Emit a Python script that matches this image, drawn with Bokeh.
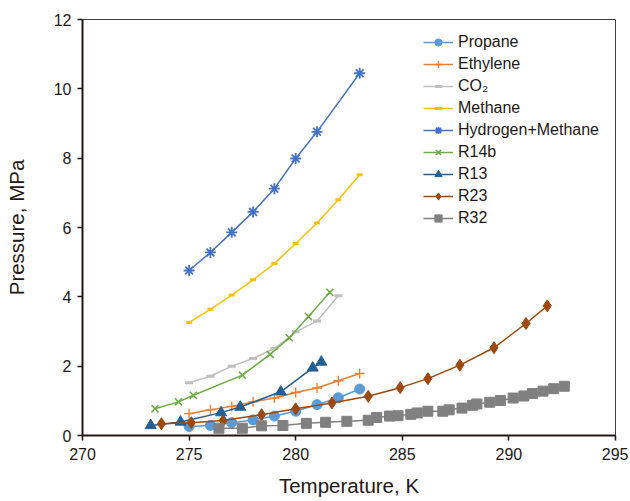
from bokeh.plotting import figure
from bokeh.models import Range1d, FixedTicker, Legend
from bokeh.embed import file_html
from bokeh.resources import INLINE

# ---- data ----
propane_T = [275, 276, 277, 278, 279, 280, 281, 282, 283]
propane_P = [0.26, 0.29, 0.37, 0.45, 0.56, 0.70, 0.89, 1.09, 1.34]

ethylene_T = [275, 276, 277, 278, 279, 280, 281, 282, 283]
ethylene_P = [0.63, 0.74, 0.84, 0.97, 1.08, 1.24, 1.37, 1.58, 1.79]

co2_T = [275, 276, 277, 278, 279, 280, 281, 282]
co2_P = [1.52, 1.71, 2.00, 2.22, 2.51, 2.99, 3.30, 4.03]

methane_T = [275, 276, 277, 278, 279, 280, 281, 282, 283]
methane_P = [3.26, 3.64, 4.05, 4.49, 4.96, 5.54, 6.13, 6.80, 7.52]

hm_T = [275, 276, 277, 278, 279, 280, 281, 283]
hm_P = [4.76, 5.28, 5.86, 6.45, 7.12, 7.99, 8.76, 10.45]

r14b_T = [273.4, 274.5, 275.2, 277.5, 278.8, 279.7, 280.6, 281.6]
r14b_P = [0.77, 0.97, 1.16, 1.74, 2.34, 2.82, 3.43, 4.13]

r13_T = [273.2, 274.6, 276.5, 277.4, 279.3, 280.8, 281.2]
r13_P = [0.29, 0.39, 0.66, 0.82, 1.26, 1.95, 2.12]

r23_T = [273.7, 275.1, 276.6, 278.4, 280.0, 281.7, 283.4, 284.9, 286.2, 287.7, 289.3, 290.8, 291.8]
r23_P = [0.34, 0.37, 0.43, 0.60, 0.77, 0.94, 1.13, 1.38, 1.64, 2.03, 2.53, 3.23, 3.74]

r32_T = [276.4, 277.5, 278.4, 279.4, 280.5, 281.4, 282.4, 283.4, 283.8, 284.4, 284.8,
         285.4, 285.7, 286.2, 286.9, 287.2, 287.8, 288.3, 288.5, 289.1, 289.6, 290.2,
         290.7, 291.1, 291.6, 292.1, 292.6]
r32_P = [0.21, 0.21, 0.28, 0.29, 0.35, 0.38, 0.41, 0.44, 0.52, 0.56, 0.57,
         0.61, 0.65, 0.70, 0.70, 0.74, 0.79, 0.87, 0.91, 0.96, 1.01, 1.08,
         1.14, 1.21, 1.28, 1.35, 1.42]

x_ticks = [270, 275, 280, 285, 290, 295]
y_ticks = [0, 2, 4, 6, 8, 10, 12]

FONT = "Liberation Sans"

p = figure(width=628, height=501, output_backend="svg", toolbar_location=None,
           x_range=Range1d(270, 295), y_range=Range1d(0, 12),
           min_border_left=82, min_border_right=13, min_border_top=19, min_border_bottom=66)

p.xgrid.visible = False
p.ygrid.visible = False
p.outline_line_color = "#404040"
p.outline_line_width = 1

for ax in (p.xaxis[0], p.yaxis[0]):
    ax.axis_line_color = "#231815"
    ax.axis_line_width = 2
    ax.major_tick_line_color = "#231815"
    ax.major_tick_line_width = 1.5
    ax.major_tick_out = 5
    ax.major_tick_in = 0
    ax.minor_tick_line_color = None
    ax.major_label_text_font = FONT
    ax.major_label_text_font_size = "16px"
    ax.major_label_text_color = "#231815"
    ax.axis_label_text_font = FONT
    ax.axis_label_text_font_size = "20.5px"
    ax.axis_label_text_font_style = "normal"
    ax.axis_label_text_color = "#231815"

p.xaxis.ticker = FixedTicker(ticks=x_ticks)
p.yaxis.ticker = FixedTicker(ticks=y_ticks)
p.xaxis.axis_label = "Temperature, K"
p.yaxis.axis_label = "Pressure, MPa"
p.xaxis.major_label_standoff = 7
p.xaxis.axis_label_standoff = 11
p.yaxis.major_label_standoff = 6
p.yaxis.axis_label_standoff = 23

series = [
    ("Propane", propane_T, propane_P, "#5B9BD5", "circle", 10, 1),
    ("Ethylene", ethylene_T, ethylene_P, "#ED7D31", "cross", 10, 1.3),
    ("CO\u2082", co2_T, co2_P, "#BFBFBF", "dash", 8, 3),
    ("Methane", methane_T, methane_P, "#FFC000", "dash", 6, 3),
    ("Hydrogen+Methane", hm_T, hm_P, "#4472C4", "asterisk", 11, 1.8),
    ("R14b", r14b_T, r14b_P, "#70AD47", "x", 10, 1.6),
    ("R13", r13_T, r13_P, "#255E91", "triangle", 11, 1),
    ("R23", r23_T, r23_P, "#9E480E", "diamond", 12, 1),
    ("R32", r32_T, r32_P, "#808080", "square", 10, 1),
]

items = []
for name, T, P, col, mk, sz, lw in series:
    r1 = p.line(T, P, line_color=col, line_width=1.5)
    r2 = p.scatter(T, P, marker=mk, size=sz, line_color=col, fill_color=col, line_width=lw)
    items.append((name, [r1, r2]))

legend = Legend(items=items, location=(341, 208))
legend.label_text_font = FONT
legend.label_text_font_size = "16px"
legend.label_text_color = "#231815"
legend.border_line_color = None
legend.background_fill_alpha = 0
legend.glyph_width = 30
legend.glyph_height = 18
legend.label_height = 18
legend.spacing = 4
legend.padding = 0
legend.margin = 0
legend.label_standoff = 5
p.add_layout(legend)

open("out.html", "w").write(file_html(p, INLINE))
